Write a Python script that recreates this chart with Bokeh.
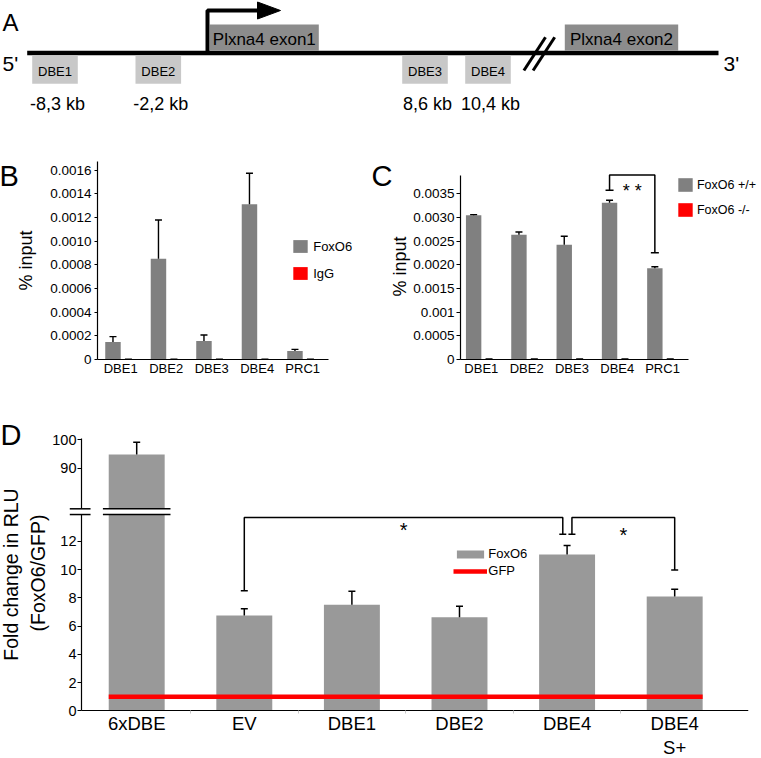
import numpy as np
from bokeh.plotting import figure
from bokeh.layouts import column, row
from bokeh.models import (Range1d, FixedTicker, LinearAxis, Legend, LegendItem,
                          Whisker, TeeHead, ColumnDataSource)
from bokeh.core.properties import value
from bokeh.embed import file_html
from bokeh.resources import INLINE

FONT = "Liberation Sans"
BAR_DARK = "#808080"
BAR_LIGHT = "#999999"
RED = "#ff0000"
INK = "#000000"

# ---------------- Panel A : schematic of the Plxna4 locus (not to scale) ----------------
dbe_names = ["DBE1", "DBE2", "DBE3", "DBE4"]
dbe_dist = ["-8,3 kb", "-2,2 kb", "8,6 kb", "10,4 kb"]
dbe_site = [54.5, 157.8, 424.5, 487.5]
exon_names = ["Plxna4 exon1", "Plxna4 exon2"]
exon_left = [209.3, 564.3]
exon_right = [318.3, 677.7]
locus_ends = [26.7, 718.0]
tss_site = 207.0
intron_break = 538.8

# ---------------- Panel B : ChIP, FoxO6 vs IgG ----------------
b_sites = ["DBE1", "DBE2", "DBE3", "DBE4", "PRC1"]
b_foxo6 = [0.000148, 0.000852, 0.000156, 0.001312, 0.000072]
b_foxo6_err = [0.000045, 0.000328, 0.000051, 0.000263, 0.000014]
b_igg = [0.000002, 0.000002, 0.000002, 0.000002, 0.000002]
b_igg_err = [0.000001, 0.000001, 0.000001, 0.000001, 0.000001]
b_ticks = [0, 0.0002, 0.0004, 0.0006, 0.0008, 0.0010, 0.0012, 0.0014, 0.0016]
b_tick_labels = ["0", "0.0002", "0.0004", "0.0006", "0.0008", "0.0010",
                 "0.0012", "0.0014", "0.0016"]

# ---------------- Panel C : ChIP, FoxO6 +/+ vs -/- ----------------
c_sites = ["DBE1", "DBE2", "DBE3", "DBE4", "PRC1"]
c_wt = [0.003044, 0.002635, 0.002424, 0.003310, 0.001925]
c_wt_err = [0.000013, 0.000057, 0.000176, 0.000050, 0.000034]
c_ko = [0.000008, 0.000008, 0.000008, 0.000008, 0.000008]
c_ko_err = [0.000003, 0.000003, 0.000003, 0.000003, 0.000003]
c_ticks = [0, 0.0005, 0.001, 0.0015, 0.002, 0.0025, 0.003, 0.0035]
c_tick_labels = ["0", "0.0005", "0.001", "0.0015", "0.0020", "0.0025", "0.0030", "0.0035"]
c_sig_from, c_sig_to = "DBE4", "PRC1"
c_sig_y = [0.003572, 0.003895, 0.002255]   # left end, top, right end
c_sig_label, c_sig_label_y = "* *", 0.003663

# ---------------- Panel D : luciferase ----------------
d_constructs = ["6xDBE", "EV", "DBE1", "DBE2", "DBE4", "DBE4\nS+"]
d_foxo6 = [94.8, 6.74, 7.50, 6.62, 11.06, 8.09]
d_foxo6_err = [4.35, 0.48, 0.96, 0.78, 0.64, 0.52]
d_gfp = [1.0, 1.0, 1.0, 1.0, 1.0, 1.0]
d_low_ticks = [0, 2, 4, 6, 8, 10, 12]
d_high_ticks = [90, 100]
d_axis_break = [13.89, 75.7]
d_ylabel = ["Fold change in RLU", "(FoxO6/GFP)"]
d_sig_from = ["EV", "DBE4"]
d_sig_to = ["DBE4", "DBE4\nS+"]
d_sig_y_from = [8.49, 12.5]
d_sig_y_top = [13.68, 13.68]
d_sig_y_to = [12.5, 9.96]
d_sig_label = ["*", "*"]
d_sig_label_y = [12.92, 12.58]


def style_axis(ax, tick_size):
    ax.axis_line_color = INK
    ax.axis_line_width = 1.2
    ax.major_tick_line_color = INK
    ax.major_tick_line_width = 1.2
    ax.minor_tick_line_color = None
    ax.minor_tick_out = 0
    ax.minor_tick_in = 0
    ax.major_label_text_font = FONT
    ax.major_label_text_font_size = tick_size
    ax.major_label_text_color = INK
    ax.axis_label_text_font = FONT
    ax.axis_label_text_font_style = "normal"
    ax.axis_label_text_color = INK


def base_fig(**kw):
    p = figure(toolbar_location=None, output_backend="svg", **kw)
    p.xgrid.visible = False
    p.ygrid.visible = False
    p.outline_line_color = None
    p.background_fill_color = "white"
    p.border_fill_color = "white"
    p.frame_align = False
    return p


def frame_text(p, text, dx, dy, size, angle=0.0, align="left", baseline="alphabetic"):
    # text anchored at the frame's bottom-left corner, offset in pixels
    p.text(x=[p.x_range.start] * len(text), y=[p.y_range.start] * len(text), text=text,
           text_font=value(FONT), text_font_size=size, text_color=INK, text_align=align,
           text_baseline=baseline, angle=angle, x_offset=dx, y_offset=dy, level="overlay")


# ======================= Panel A =======================
pA = base_fig(width=761, height=140, x_range=Range1d(0, 761), y_range=Range1d(140, 0),
              min_border=0, x_axis_location=None, y_axis_location=None)
line_y = 52.5
pA.line(locus_ends, [line_y, line_y], line_width=4.5, line_color=INK)
pA.quad(left=exon_left, right=exon_right, top=24, bottom=50.3,
        fill_color="#8c8c8c", line_color=None)
pA.text(x=[(l + r) / 2 for l, r in zip(exon_left, exon_right)], y=[38.5, 38.5], text=exon_names,
        text_font=value(FONT), text_font_size="17px", text_color=INK,
        text_align="center", text_baseline="middle")
half_box = 22.8
pA.quad(left=[s - half_box for s in dbe_site], right=[s + half_box for s in dbe_site],
        top=55, bottom=83.3, fill_color="#c8c8c8", line_color=None)
pA.text(x=dbe_site, y=[70.5] * len(dbe_site), text=dbe_names, text_font=value(FONT),
        text_font_size="13px", text_color=INK, text_align="center", text_baseline="middle")
pA.text(x=[s + 2.5 for s in dbe_site], y=[103] * len(dbe_site), text=dbe_dist,
        text_font=value(FONT), text_font_size="18px", text_color=INK,
        text_align="center", text_baseline="alphabetic")
# transcription start arrow
pA.line([tss_site, tss_site, tss_site + 50], [line_y, 10, 10], line_width=4, line_color=INK)
pA.patch([tss_site + 50, tss_site + 73, tss_site + 50], [1.5, 10, 18.5], fill_color=INK, line_color=INK)
# intron break "//"
for dx in (-4.6, 4.6):
    m = intron_break + dx
    pA.line([m - 10.8, m + 10.8], [70, 36.7], line_width=3, line_color=INK)
pA.text(x=[2, 723], y=[63, 63], text=["5'", "3'"], text_font=value(FONT), text_font_size="21px",
        text_color=INK, text_align="left", text_baseline="alphabetic")
pA.text(x=[2], y=[22], text=["A"], text_font=value(FONT), text_font_size="24px",
        text_color=INK, text_align="left", text_baseline="alphabetic")


# ======================= Panel B / C helper =======================
def chip_panel(width, border_left, border_top, x_range, x_bound_end, y_end, sites,
               s1, e1, s2, e2, ticks, tick_labels, tick_out, label_standoff, axis_standoff,
               names, leg_loc, leg_glyph_h, leg_spacing, leg_standoff, leg_font, y_bounds=None):
    p = base_fig(width=width, height=245, x_range=Range1d(*x_range), y_range=Range1d(0, y_end),
                 min_border_left=border_left, min_border_right=0,
                 min_border_top=border_top, min_border_bottom=26)
    xc = np.arange(len(sites)) + 0.5
    off, bw = 0.17, 0.34
    r1 = p.vbar(x=xc - off, top=s1, width=bw, fill_color=BAR_DARK, line_color=None)
    r2 = p.vbar(x=xc + off, top=s2, width=bw, fill_color=RED, line_color=None)
    for xs, v, e in ((xc - off, s1, e1), (xc + off, s2, e2)):
        src = ColumnDataSource(dict(base=xs, lower=v, upper=np.add(v, e)))
        p.add_layout(Whisker(source=src, base="base", lower="lower", upper="upper",
                             line_color=INK, line_width=1.4, level="annotation",
                             upper_head=TeeHead(size=7, line_color=INK, line_width=1.4),
                             lower_head=None))
    xa = p.xaxis[0]
    style_axis(xa, "13px")
    xa.ticker = FixedTicker(ticks=list(xc))
    xa.major_label_overrides = {float(x): s for x, s in zip(xc, sites)}
    xa.major_tick_line_color = None
    xa.major_tick_out = 0
    xa.major_tick_in = 0
    xa.major_label_standoff = 1
    xa.bounds = (x_range[0], x_bound_end)
    ya = p.yaxis[0]
    style_axis(ya, "13.5px")
    ya.ticker = FixedTicker(ticks=ticks)
    ya.major_label_overrides = {t: s for t, s in zip(ticks, tick_labels)}
    ya.major_tick_out = tick_out
    ya.major_tick_in = 0
    ya.major_label_standoff = label_standoff
    ya.axis_label = "% input"
    ya.axis_label_text_font_size = "18px"
    ya.axis_label_standoff = axis_standoff
    if y_bounds is not None:
        ya.bounds = y_bounds
    leg = Legend(items=[LegendItem(label=names[0], renderers=[r1]),
                        LegendItem(label=names[1], renderers=[r2])],
                 location=leg_loc, glyph_width=18, glyph_height=leg_glyph_h,
                 label_height=leg_glyph_h, spacing=leg_spacing, label_standoff=leg_standoff,
                 padding=0, margin=0, border_line_color=None, background_fill_alpha=0,
                 label_text_font=FONT, label_text_font_size=leg_font, label_text_color=INK)
    p.add_layout(leg)
    return p, xc, off


pB, xb, offb = chip_panel(372, 97, 21, (-0.01, 6.034), 5.07, 0.001674, b_sites,
                          b_foxo6, b_foxo6_err, b_igg, b_igg_err, b_ticks, b_tick_labels,
                          3, 3, 11, ["FoxO6", "IgG"], (194.2, 77.6), 16, 11, 4, "13px")
frame_text(pB, ["B"], -98, -184, "29px")

pC, xcc, offc = chip_panel(389, 88, 33, (0.04, 6.684), 5.07, 0.003926, c_sites,
                           c_wt, c_wt_err, c_ko, c_ko_err, c_ticks, c_tick_labels,
                           4, 2, 0, ["FoxO6 +/+", "FoxO6 -/-"], (215.9, 141.0), 17, 8, 3, "12.5px",
                           y_bounds=(0, 0.003874))
frame_text(pC, ["C"], -89, -184, "29px")
# significance bracket in C
cx0 = xcc[c_sites.index(c_sig_from)] - offc
cx1 = xcc[c_sites.index(c_sig_to)] - offc
pC.line([cx0, cx0, cx1, cx1], [c_sig_y[0], c_sig_y[1], c_sig_y[1], c_sig_y[2]],
        line_color=INK, line_width=1.5)
pC.scatter([cx0, cx1], [c_sig_y[0], c_sig_y[2]], marker="dash", size=8, line_color=INK, line_width=1.5)
pC.text(x=[(cx0 + cx1) / 2], y=[c_sig_label_y], text=[c_sig_label], text_font=value(FONT),
        text_font_size="18px", text_color=INK, text_align="center", text_baseline="alphabetic",
        y_offset=5)

# ======================= Panel D =======================
D_START, D_END = -0.3569, 6.186
pD = base_fig(width=761, height=373, x_range=Range1d(D_START, D_END),
              y_range=Range1d(-3.376, 22.81),
              min_border_left=44, min_border_right=13, min_border_top=3, min_border_bottom=0,
              y_axis_location=None)
pD.extra_y_ranges = {"upper": Range1d(-12.22, 118.06)}
ax_x = -0.013          # where the broken y axis is drawn
xd = np.arange(len(d_constructs)) + 0.5
bw = 0.52
vals = np.array(d_foxo6)
errs = np.array(d_foxo6_err)
hi = vals > d_axis_break[1]
r_lo = pD.vbar(x=xd, top=np.minimum(vals, d_axis_break[0]), bottom=0, width=bw,
               fill_color=BAR_LIGHT, line_color=None)
pD.vbar(x=xd[hi], top=vals[hi], bottom=d_axis_break[1], width=bw, y_range_name="upper",
        fill_color=BAR_LIGHT, line_color=None)
for mask, rng in ((~hi, "default"), (hi, "upper")):
    src = ColumnDataSource(dict(base=xd[mask], lower=vals[mask], upper=vals[mask] + errs[mask]))
    pD.add_layout(Whisker(source=src, base="base", lower="lower", upper="upper", y_range_name=rng,
                          line_color=INK, line_width=1.5, level="annotation",
                          upper_head=TeeHead(size=7, line_color=INK, line_width=1.5),
                          lower_head=None))
gx = [xd[0] - bw / 2] + list(xd) + [xd[-1] + bw / 2]
gy = [d_gfp[0]] + list(d_gfp) + [d_gfp[-1]]
r_gfp = pD.line(gx, gy, line_color=RED, line_width=4.5)

# broken axis marks
bx = xd[hi][0]
brk_x0 = [ax_x - 0.109, bx - bw / 2 - 0.054]
brk_x1 = [ax_x + 0.084, bx + bw / 2 + 0.054]
pD.segment(x0=brk_x0, x1=brk_x1, y0=[d_axis_break[0]] * 2, y1=[d_axis_break[0]] * 2,
           line_color=INK, line_width=1.5, level="overlay")
pD.segment(x0=brk_x0, x1=brk_x1, y0=[d_axis_break[1]] * 2, y1=[d_axis_break[1]] * 2,
           y_range_name="upper", line_color=INK, line_width=1.5, level="overlay")

# the two segments of the broken y axis, both drawn at ax_x
ax_lo = LinearAxis(ticker=FixedTicker(ticks=d_low_ticks), bounds=(0, d_axis_break[0]),
                   fixed_location=ax_x)
ax_hi = LinearAxis(y_range_name="upper", ticker=FixedTicker(ticks=d_high_ticks),
                   bounds=(d_axis_break[1], 100.3), fixed_location=ax_x)
for ax in (ax_lo, ax_hi):
    style_axis(ax, "14.5px")
    ax.major_tick_out = 4
    ax.major_tick_in = 0
    ax.major_label_standoff = 1
    pD.add_layout(ax, "left")
# y-axis title, two lines, reading upward
frame_text(pD, d_ylabel[:1], -33.2, -184, "19.5px", angle=np.pi / 2, align="center", baseline="middle")
frame_text(pD, d_ylabel[1:], -6.5, -185.5, "19.5px", angle=np.pi / 2, align="center", baseline="middle")

xa = pD.xaxis[0]
style_axis(xa, "18.5px")
xa.fixed_location = 0
xa.bounds = (ax_x, D_END)
xa.ticker = FixedTicker(ticks=list(xd), minor_ticks=list(np.arange(1, len(d_constructs))))
xa.major_label_overrides = {float(x): s for x, s in zip(xd, d_constructs)}
xa.major_tick_line_color = None
xa.major_tick_out = 0
xa.major_tick_in = 0
xa.minor_tick_line_color = "#c8c8c8"
xa.minor_tick_out = 3
xa.minor_tick_in = 0
xa.major_label_standoff = -1
xa.major_label_text_line_height = 1.13

# significance brackets
pos = {c: x for c, x in zip(d_constructs, xd)}
end_shift = [(0.0, -0.04), (0.045, 0.0)]
for i in range(len(d_sig_from)):
    x0 = pos[d_sig_from[i]] + end_shift[i][0]
    x1 = pos[d_sig_to[i]] + end_shift[i][1]
    pD.line([x0, x0, x1, x1], [d_sig_y_from[i], d_sig_y_top[i], d_sig_y_top[i], d_sig_y_to[i]],
            line_color=INK, line_width=1.5)
    pD.scatter([x0, x1], [d_sig_y_from[i], d_sig_y_to[i]], marker="dash", size=7,
               line_color=INK, line_width=1.5)
    pD.text(x=[(x0 + x1) / 2], y=[d_sig_label_y[i]], text=[d_sig_label[i]], text_font=value(FONT),
            text_font_size="20px", text_color=INK, text_align="center",
            text_baseline="alphabetic", y_offset=2)

legD = Legend(items=[LegendItem(label="FoxO6", renderers=[r_lo]),
                     LegendItem(label="GFP", renderers=[r_gfp])],
              location=(409.3, 179.7), glyph_width=34, glyph_height=10, label_height=15,
              spacing=2, label_standoff=1, padding=0, margin=0, border_line_color=None,
              background_fill_alpha=0, label_text_font=FONT, label_text_font_size="13px",
              label_text_color=INK)
pD.add_layout(legD)
frame_text(pD, ["D"], -44, -324, "29px")

layout = column(pA, row(pB, pC), pD)
with open("out.html", "w") as f:
    f.write(file_html(layout, INLINE))
